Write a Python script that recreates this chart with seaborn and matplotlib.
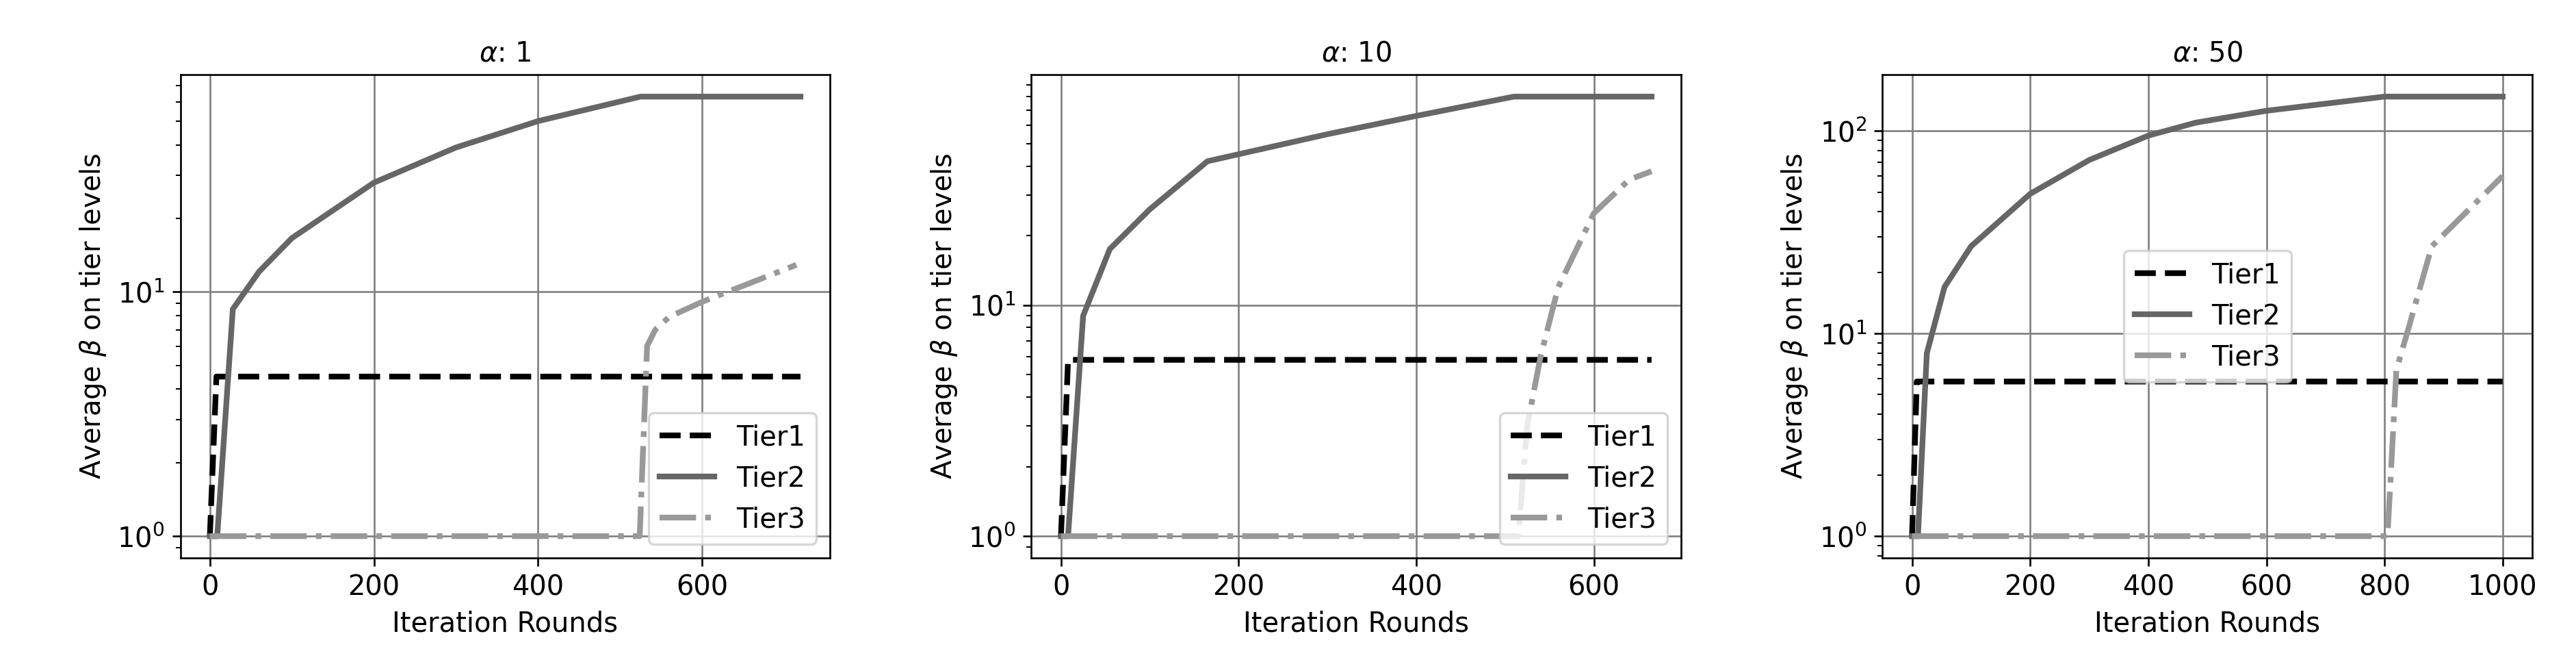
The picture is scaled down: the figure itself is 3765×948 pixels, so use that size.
import matplotlib
matplotlib.use("Agg")
import matplotlib.pyplot as plt
import seaborn as sns
import pandas as pd

plt.rcParams['font.family'] = ['DejaVu Sans']
plt.rcParams['font.size'] = 12

# alpha = 1
a1_t1_x = [0, 8, 720]
a1_t1_y = [1, 4.5, 4.5]
a1_t2_x = [0, 9, 28, 60, 100, 200, 300, 400, 525, 720]
a1_t2_y = [1, 1, 8.5, 12.1, 16.6, 28, 39, 50, 63, 63]
a1_t3_x = [0, 524, 533, 543, 560, 600, 715]
a1_t3_y = [1, 1, 6, 7, 7.9, 9.1, 12.9]

# alpha = 10
a2_t1_x = [0, 8, 665]
a2_t1_y = [1, 5.8, 5.8]
a2_t2_x = [0, 8, 25, 55, 100, 165, 300, 400, 510, 665]
a2_t2_y = [1, 1, 9, 17.5, 26, 42, 55, 66, 80, 80]
a2_t3_x = [0, 515, 525, 540, 560, 600, 640, 665]
a2_t3_y = [1, 1, 3, 6, 12, 25, 35, 38]

# alpha = 50
a3_t1_x = [0, 8, 1000]
a3_t1_y = [1, 5.8, 5.8]
a3_t2_x = [0, 10, 25, 55, 100, 200, 300, 400, 480, 600, 800, 1000]
a3_t2_y = [1, 1, 8, 17, 27, 49, 72, 95, 110, 126, 148, 148]
a3_t3_x = [0, 805, 820, 840, 880, 950, 1000]
a3_t3_y = [1, 1, 6.6, 10.5, 27, 43, 60]

panels = [
    ("1", [(a1_t1_x, a1_t1_y), (a1_t2_x, a1_t2_y), (a1_t3_x, a1_t3_y)], "lower right"),
    ("10", [(a2_t1_x, a2_t1_y), (a2_t2_x, a2_t2_y), (a2_t3_x, a2_t3_y)], "lower right"),
    ("50", [(a3_t1_x, a3_t1_y), (a3_t2_x, a3_t2_y), (a3_t3_x, a3_t3_y)], "center"),
]
tier_names = ["Tier1", "Tier2", "Tier3"]
colors = ["black", "#666666", "#999999"]
styles = ["--", "-", "-."]

fig, axes = plt.subplots(1, 3, figsize=(15.6875, 3.95), dpi=240)
fig.subplots_adjust(left=0.07, right=0.983, top=0.885, bottom=0.14, wspace=0.31)

for ax, (alpha, series, loc) in zip(axes, panels):
    for (xs, ys), name, c, ls in zip(series, tier_names, colors, styles):
        df = pd.DataFrame({"x": xs, "y": ys})
        sns.lineplot(data=df, x="x", y="y", ax=ax, color=c, linestyle=ls,
                     linewidth=2.5, label=name)
    ax.set_yscale("log")
    ax.grid(True, color="gray", linewidth=0.8)
    ax.set_title(r"$\alpha$: " + alpha, fontsize=12)
    ax.set_xlabel("Iteration Rounds")
    ax.set_ylabel(r"Average $\beta$ on tier levels")
    ax.legend(loc=loc, fontsize=12)

fig.savefig("out.png", dpi=240)
